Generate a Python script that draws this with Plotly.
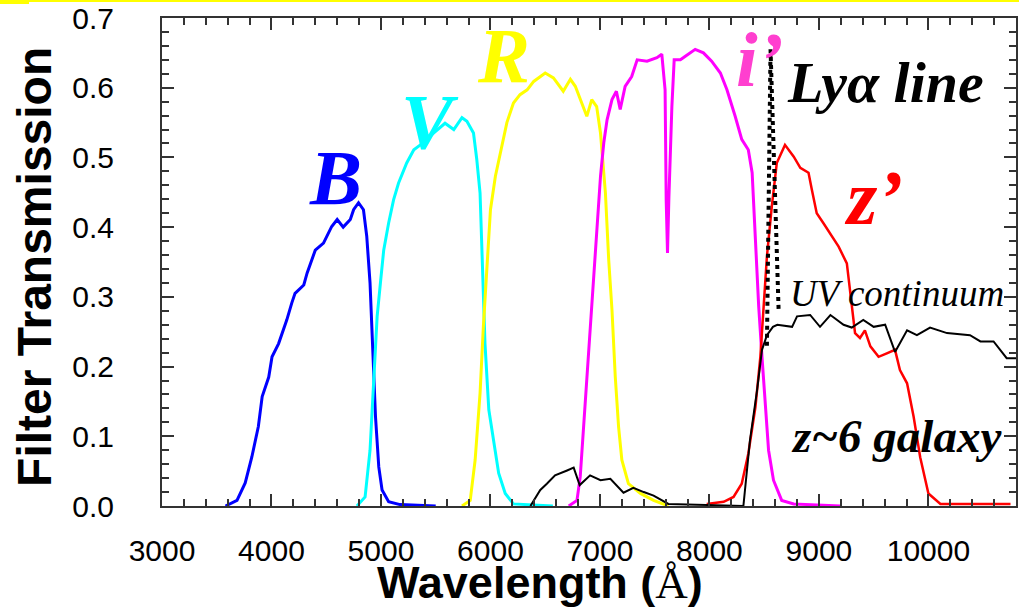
import plotly.graph_objects as go

# ---------------- data ----------------
B_x = [3580, 3685, 3760, 3820, 3880, 3915, 3975, 4005, 4065, 4140, 4185, 4215, 4295, 4325, 4400, 4475,
       4550, 4600, 4655, 4720, 4750, 4795, 4840, 4870, 4900, 4925, 4950, 4980, 5010, 5070, 5175, 5500]
B_y = [0.0, 0.008, 0.033, 0.070, 0.114, 0.157, 0.185, 0.214, 0.233, 0.267, 0.291, 0.305, 0.317, 0.334, 0.367, 0.377,
       0.401, 0.411, 0.400, 0.411, 0.425, 0.435, 0.425, 0.387, 0.320, 0.224, 0.128, 0.056, 0.023, 0.006, 0.002, 0.0]

V_x = [4780, 4855, 4900, 4935, 4965, 4995, 5025, 5070, 5115, 5160, 5235, 5300, 5360, 5480, 5585, 5665,
       5740, 5785, 5845, 5875, 5905, 5920, 5935, 5950, 5985, 6030, 6075, 6135, 6210, 6570]
V_y = [0.0, 0.013, 0.080, 0.176, 0.272, 0.320, 0.367, 0.406, 0.439, 0.463, 0.492, 0.511, 0.518, 0.535, 0.549, 0.540,
       0.557, 0.552, 0.535, 0.497, 0.449, 0.377, 0.305, 0.233, 0.138, 0.090, 0.047, 0.018, 0.003, 0.0]

R_x = [5740, 5815, 5860, 5905, 5935, 5970, 6000, 6045, 6090, 6150, 6210, 6270, 6335, 6395, 6500, 6575, 6665,
       6730, 6775, 6850, 6880, 6925, 6970, 7005, 7050, 7080, 7110, 7140, 7170, 7200, 7260, 7370, 7490, 7625]
R_y = [0.0, 0.008, 0.066, 0.162, 0.257, 0.353, 0.425, 0.473, 0.506, 0.550, 0.578, 0.590, 0.597, 0.609, 0.621, 0.614, 0.595,
       0.612, 0.602, 0.569, 0.559, 0.583, 0.573, 0.535, 0.449, 0.353, 0.281, 0.185, 0.114, 0.066, 0.032, 0.018, 0.008, 0.0]

I_x = [6715, 6790, 6820, 6850, 6880, 6910, 6940, 6970, 7005, 7035, 7065, 7110, 7150, 7185, 7230, 7290,
       7340, 7430, 7520, 7565, 7595, 7605, 7617, 7630, 7657, 7678, 7735, 7780, 7870, 7945, 8020, 8100,
       8160, 8235, 8295, 8355, 8390, 8420, 8450, 8480, 8510, 8540, 8585, 8660, 8770, 9195]
I_y = [0.0, 0.008, 0.042, 0.114, 0.185, 0.257, 0.329, 0.401, 0.473, 0.521, 0.554, 0.583, 0.595, 0.569, 0.602, 0.616,
       0.640, 0.638, 0.643, 0.648, 0.597, 0.439, 0.363, 0.444, 0.573, 0.640, 0.640, 0.645, 0.655, 0.650, 0.638, 0.621,
       0.597, 0.559, 0.526, 0.511, 0.478, 0.382, 0.286, 0.214, 0.142, 0.080, 0.037, 0.008, 0.003, 0.0]

Z_x = [7975, 8130, 8220, 8295, 8355, 8420, 8465, 8495, 8525, 8570, 8615, 8690, 8770, 8830, 8905, 8935, 8980, 9040,
       9105, 9180, 9255, 9300, 9330, 9375, 9420, 9470, 9545, 9620, 9695, 9740, 9805, 9865, 9925, 10000, 10110, 10750]
Z_y = [0.003, 0.006, 0.013, 0.032, 0.075, 0.142, 0.214, 0.286, 0.358, 0.430, 0.492, 0.518, 0.501, 0.485, 0.478, 0.454, 0.420, 0.406,
       0.391, 0.372, 0.348, 0.286, 0.248, 0.241, 0.252, 0.229, 0.214, 0.219, 0.224, 0.195, 0.176, 0.128, 0.070, 0.018, 0.003, 0.003]

GAL_x = [6365, 6455, 6515, 6590, 6700, 6760, 6815, 6910, 7005, 7095, 7215, 7305, 7400, 7490, 7625, 8310,
         8370, 8435, 8480, 8525, 8580, 8620, 8755, 8800, 8920, 9010, 9105, 9225, 9300, 9405, 9500, 9605,
         9695, 9805, 9895, 10015, 10170, 10380, 10475, 10595, 10715, 10800]
GAL_y = [0.0, 0.023, 0.032, 0.044, 0.051, 0.055, 0.030, 0.044, 0.037, 0.039, 0.019, 0.026, 0.020, 0.015, 0.003, 0.0,
         0.094, 0.166, 0.224, 0.245, 0.257, 0.260, 0.257, 0.272, 0.274, 0.257, 0.274, 0.260, 0.256, 0.267, 0.257, 0.260,
         0.221, 0.252, 0.245, 0.256, 0.248, 0.245, 0.236, 0.236, 0.212, 0.212]

LYA_x = [8525, 8558, 8632]
LYA_y = [0.23, 0.655, 0.28]

X_TICKS = [3000, 4000, 5000, 6000, 7000, 8000, 9000, 10000]
X_TICK_LABELS = ["3000", "4000", "5000", "6000", "7000", "8000", "9000", "10000"]
Y_TICKS = [0.0, 0.1, 0.2, 0.3, 0.4, 0.5, 0.6, 0.7]
Y_TICK_LABELS = ["0.0", "0.1", "0.2", "0.3", "0.4", "0.5", "0.6", "0.7"]

X_TITLE = "<b>Wavelength (</b><span style='font-family:Liberation Serif'>Å</span><b>)</b>"
Y_TITLE = "<b>Filter Transmission</b>"

# ---------------- figure ----------------
fig = go.Figure()

def add_line(x, y, color, width, dash="solid"):
    fig.add_trace(go.Scatter(x=x, y=y, mode="lines", line=dict(color=color, width=width, dash=dash),
                             showlegend=False, hoverinfo="skip"))

add_line(B_x, B_y, "#0000FF", 3)
add_line(V_x, V_y, "#00FFFF", 3)
add_line(R_x, R_y, "#FFFF00", 3)
add_line(I_x, I_y, "#FF00FF", 3)
add_line(Z_x, Z_y, "#FF0000", 2.5)
add_line(GAL_x, GAL_y, "#000000", 2)
add_line(LYA_x, LYA_y, "#000000", 4, "dot")

serif = "Liberation Serif, Times New Roman, serif"
sans = "Liberation Sans, Arial, sans-serif"

def label(text, x, y, color, size, bold=True, italic=True):
    t = text
    if bold:
        t = "<b>" + t + "</b>"
    if italic:
        t = "<i>" + t + "</i>"
    fig.add_annotation(x=x, y=y, xref="x", yref="y", text=t, showarrow=False,
                       font=dict(family=serif, size=size, color=color),
                       xanchor="center", yanchor="middle")

label("B", 4583, 0.471, "#0000FF", 78)
label("V", 5450, 0.551, "#00FFFF", 78)
label("R", 6117, 0.646, "#FFFF00", 78)
label("i’", 8462, 0.640, "#FF3FCF", 78)
label("Lyα line", 9604, 0.608, "#000000", 58)
label("z’", 9495, 0.443, "#FF0000", 78)
label("UV continuum", 9714, 0.305, "#000000", 37, bold=False)
label("z~6 galaxy", 9706, 0.101, "#000000", 47)

# axis titles (placed as annotations to match the reference position)
fig.add_annotation(x=0.443, y=-0.2135, xref="paper", yref="paper", text=X_TITLE, showarrow=False,
                   font=dict(family=sans, size=45, color="#000000"), xanchor="center", yanchor="bottom")
fig.add_annotation(x=-0.1487, y=0.49, xref="paper", yref="paper", text=Y_TITLE, showarrow=False,
                   textangle=-90, font=dict(family=sans, size=48, color="#000000"),
                   xanchor="center", yanchor="middle")

# yellow decorations at the top of the page
fig.add_shape(type="rect", xref="paper", yref="paper", x0=-0.2, x1=1.01, y0=1.0328, y1=1.05,
              fillcolor="#FFFF00", line=dict(width=0), layer="above")
fig.add_shape(type="rect", xref="paper", yref="paper", x0=-0.2, x1=-0.1557, y0=1.0287, y1=1.05,
              fillcolor="#FFFF00", line=dict(width=0), layer="above")

tickfont = dict(family=sans, size=30, color="#000000")

fig.update_xaxes(
    range=[3000, 10800], tickmode="array", tickvals=X_TICKS, ticktext=X_TICK_LABELS,
    ticks="inside", ticklen=12, tickwidth=1.5, tickcolor="#333333",
    minor=dict(dtick=200, ticks="inside", ticklen=7, tickwidth=1.5, tickcolor="#333333"),
    showline=True, linecolor="#333333", linewidth=2, mirror="ticks",
    showgrid=False, zeroline=False, tickfont=tickfont, ticklabelstandoff=17,
    automargin=False,
)
fig.update_yaxes(
    range=[0, 0.7], tickmode="array", tickvals=Y_TICKS, ticktext=Y_TICK_LABELS,
    ticks="inside", ticklen=12, tickwidth=1.5, tickcolor="#333333",
    minor=dict(dtick=0.02, ticks="inside", ticklen=7, tickwidth=1.5, tickcolor="#333333"),
    showline=True, linecolor="#333333", linewidth=2, mirror="ticks",
    showgrid=False, zeroline=False, tickfont=tickfont, ticklabelstandoff=40,
    automargin=False,
)

fig.update_layout(
    width=1019, height=612,
    margin=dict(l=162, r=3, t=18, b=106, autoexpand=False),
    paper_bgcolor="#FFFFFF", plot_bgcolor="#FFFFFF",
    showlegend=False,
)

fig.write_html("out.html", config={"displayModeBar": False},
               post_script="document.body.style.margin='0';document.body.style.overflow='hidden';")
